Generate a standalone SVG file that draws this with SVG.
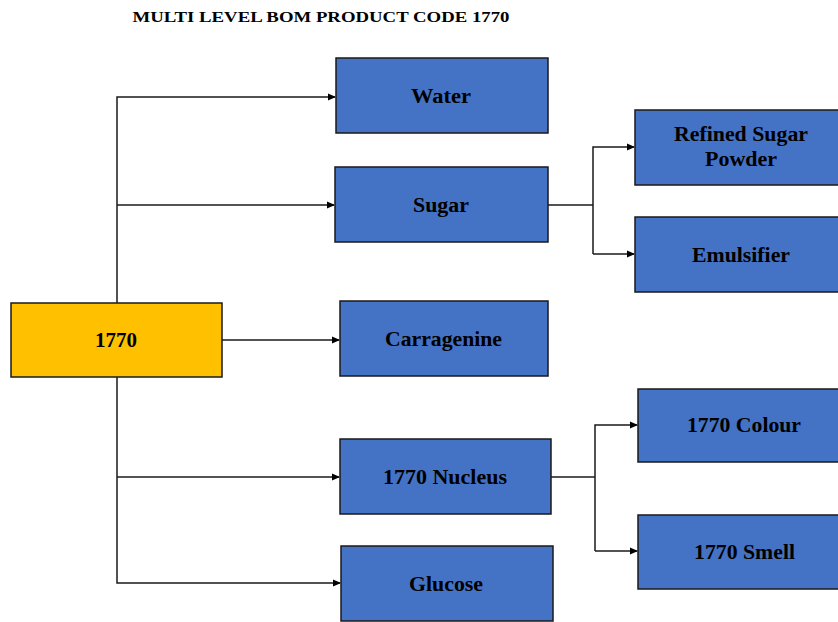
<svg xmlns="http://www.w3.org/2000/svg" width="838" height="622" viewBox="0 0 838 622">
<style>
.n{fill:#4472C4;stroke:#1a1a1a;stroke-width:1.5}
.r{fill:#FFC000;stroke:#1a1a1a;stroke-width:1.5}
.t{font-family:"Liberation Serif","Times New Roman",serif;font-weight:bold;font-size:20px;fill:#000;text-anchor:middle;dominant-baseline:central}
.c{fill:none;stroke:#1a1a1a;stroke-width:1.5}
</style>
<defs>
<marker id="a" markerWidth="8" markerHeight="8" refX="7" refY="4" orient="auto" markerUnits="userSpaceOnUse">
<path d="M0,0.5 L8,4 L0,7.5 Z" fill="#000"/>
</marker>
</defs>
<text x="321" y="22" font-family="Liberation Serif,serif" font-weight="bold" font-size="14.5" text-anchor="middle" textLength="377" lengthAdjust="spacingAndGlyphs">MULTI LEVEL BOM PRODUCT CODE 1770</text>
<g id="connectors">
<path class="c" d="M117,303 V97 H335" marker-end="url(#a)"/>
<path class="c" d="M117,205 H334" marker-end="url(#a)"/>
<path class="c" d="M222,340 H339" marker-end="url(#a)"/>
<path class="c" d="M117,377 V583 H340" marker-end="url(#a)"/>
<path class="c" d="M117,477 H339" marker-end="url(#a)"/>
<path class="c" d="M548,205 H593"/>
<path class="c" d="M593,254 V147 H634" marker-end="url(#a)"/>
<path class="c" d="M593,254 H634" marker-end="url(#a)"/>
<path class="c" d="M551,477 H595"/>
<path class="c" d="M595,551 V425 H637" marker-end="url(#a)"/>
<path class="c" d="M595,551 H637" marker-end="url(#a)"/>
</g>
<g id="n1770"><rect class="r" x="11" y="303" width="211" height="74"/><text class="t" x="116" y="340" textLength="42" lengthAdjust="spacingAndGlyphs">1770</text></g>
<g id="water"><rect class="n" x="336" y="58" width="212" height="75"/><text class="t" x="441" y="95.5" textLength="60" lengthAdjust="spacingAndGlyphs">Water</text></g>
<g id="sugar"><rect class="n" x="335" y="167" width="213" height="75"/><text class="t" x="441" y="204.5" textLength="56" lengthAdjust="spacingAndGlyphs">Sugar</text></g>
<g id="carragenine"><rect class="n" x="340" y="301" width="208" height="75"/><text class="t" x="443.5" y="338.5" textLength="117" lengthAdjust="spacingAndGlyphs">Carragenine</text></g>
<g id="nucleus"><rect class="n" x="340" y="439" width="211" height="75"/><text class="t" x="445" y="476.5" textLength="124" lengthAdjust="spacingAndGlyphs">1770 Nucleus</text></g>
<g id="glucose"><rect class="n" x="341" y="546" width="212" height="75"/><text class="t" x="446" y="583.5" textLength="74" lengthAdjust="spacingAndGlyphs">Glucose</text></g>
<g id="refined"><rect class="n" x="635" y="110" width="205" height="75"/><text class="t" x="741" y="134" textLength="134" lengthAdjust="spacingAndGlyphs">Refined Sugar</text><text class="t" x="741" y="159" textLength="72" lengthAdjust="spacingAndGlyphs">Powder</text></g>
<g id="emulsifier"><rect class="n" x="635" y="217" width="205" height="75"/><text class="t" x="741" y="254.5" textLength="98" lengthAdjust="spacingAndGlyphs">Emulsifier</text></g>
<g id="colour"><rect class="n" x="638" y="389" width="202" height="73"/><text class="t" x="744" y="425" textLength="114" lengthAdjust="spacingAndGlyphs">1770 Colour</text></g>
<g id="smell"><rect class="n" x="638" y="515" width="202" height="74"/><text class="t" x="744.5" y="552" textLength="101" lengthAdjust="spacingAndGlyphs">1770 Smell</text></g>
</svg>
